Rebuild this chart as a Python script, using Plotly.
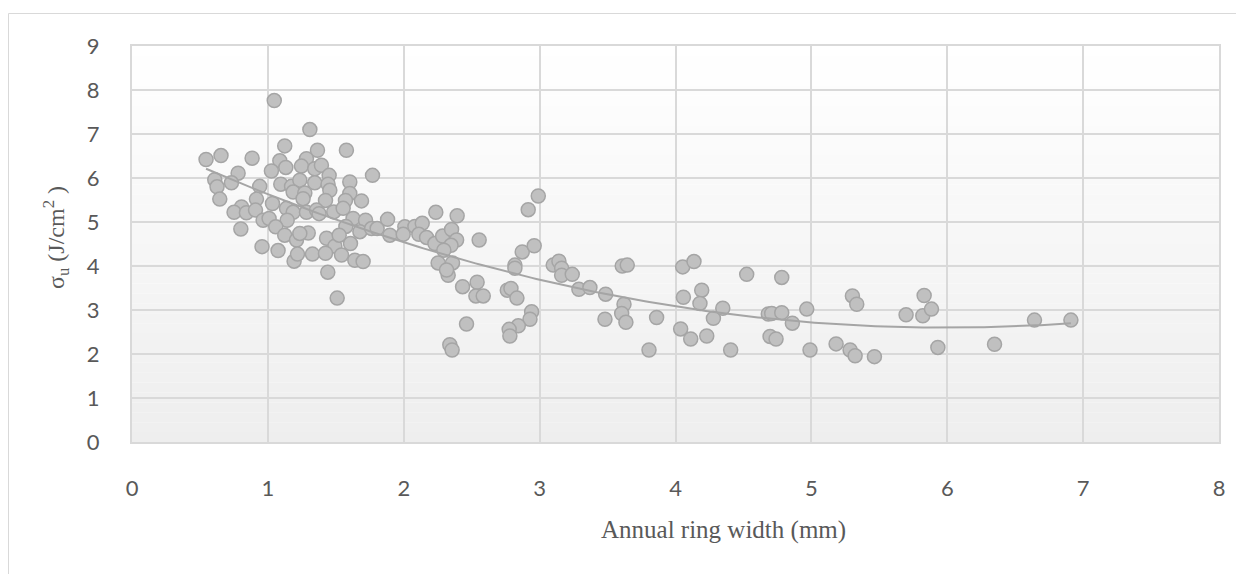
import numpy as np
import plotly.graph_objects as go

# Annual ring width (mm)
ring_width = [
    1.047, 1.309, 0.545, 0.655, 0.884, 1.124, 1.088, 1.132, 1.026, 1.365,
    1.578, 1.284, 1.247, 1.345, 1.394, 1.451, 1.770, 0.781, 0.609, 0.626,
    0.732, 0.646, 0.940, 1.095, 1.174, 1.235, 1.345, 1.443, 1.603, 1.456,
    1.186, 1.272, 1.603, 0.916, 1.259, 1.424, 1.571, 1.689, 1.034, 0.806,
    0.751, 0.842, 0.909, 1.137, 1.186, 1.284, 1.358, 1.377, 1.485, 1.554,
    0.965, 1.009, 1.142, 1.627, 1.719, 1.574, 1.677, 1.763, 1.804, 1.881,
    1.898, 1.058, 0.801, 1.124, 1.211, 1.297, 1.235, 1.432, 1.493, 1.525,
    1.608, 0.957, 1.075, 1.193, 1.218, 1.328, 1.424, 1.542, 1.640, 1.701,
    1.441, 1.510,
    2.008, 1.996, 2.082, 2.136, 2.111, 2.168, 2.236, 2.393, 2.229, 2.286,
    2.352, 2.389, 2.348, 2.295, 2.253, 2.359, 2.327, 2.315, 2.555, 2.433,
    2.540, 2.531, 2.585, 2.462, 2.339, 2.356, 2.916, 2.990, 2.872, 2.960,
    2.818, 2.818, 2.762, 2.789, 2.833, 2.941, 2.929, 2.843, 2.776, 2.781,
    3.100, 3.142, 3.162, 3.162, 3.240, 3.289, 3.370, 3.486, 3.481, 3.608,
    3.645, 3.621, 3.604, 3.635,
    3.805, 3.861, 4.053, 4.136, 4.058, 4.193, 4.180, 4.038, 4.112, 4.230,
    4.279, 4.348, 4.406, 4.524, 4.782, 4.683, 4.708, 4.782, 4.860, 4.696,
    4.740, 4.966, 4.990, 5.182, 5.285, 5.322, 5.302, 5.334, 5.464, 5.697,
    5.830, 5.820, 5.884, 5.931, 6.348, 6.642, 6.910,
]

# Impact bending strength sigma_u (J/cm2)
sigma_u = [
    7.76, 7.10, 6.42, 6.51, 6.45, 6.73, 6.39, 6.24, 6.16, 6.63,
    6.63, 6.44, 6.27, 6.21, 6.29, 6.06, 6.06, 6.11, 5.96, 5.80,
    5.89, 5.52, 5.81, 5.86, 5.81, 5.95, 5.89, 5.86, 5.91, 5.72,
    5.68, 5.66, 5.65, 5.52, 5.53, 5.49, 5.49, 5.48, 5.42, 5.34,
    5.22, 5.21, 5.27, 5.31, 5.22, 5.22, 5.27, 5.19, 5.23, 5.31,
    5.04, 5.08, 5.04, 5.08, 5.04, 4.90, 4.78, 4.85, 4.85, 5.06,
    4.70, 4.89, 4.84, 4.70, 4.59, 4.75, 4.74, 4.63, 4.45, 4.70,
    4.51, 4.44, 4.35, 4.11, 4.27, 4.27, 4.29, 4.25, 4.13, 4.10,
    3.86, 3.27,
    4.89, 4.72, 4.90, 4.97, 4.72, 4.65, 5.22, 5.14, 4.51, 4.68,
    4.83, 4.59, 4.47, 4.36, 4.07, 4.07, 3.79, 3.91, 4.59, 3.53,
    3.63, 3.32, 3.32, 2.68, 2.21, 2.09, 5.28, 5.59, 4.32, 4.46,
    4.02, 3.95, 3.45, 3.49, 3.27, 2.96, 2.79, 2.64, 2.56, 2.41,
    4.02, 4.11, 3.95, 3.79, 3.81, 3.47, 3.51, 3.36, 2.79, 4.00,
    4.02, 3.13, 2.92, 2.72,
    2.09, 2.83, 3.98, 4.10, 3.29, 3.45, 3.15, 2.57, 2.34, 2.41,
    2.81, 3.04, 2.09, 3.81, 3.74, 2.91, 2.92, 2.94, 2.70, 2.40,
    2.34, 3.02, 2.09, 2.23, 2.09, 1.96, 3.32, 3.13, 1.94, 2.89,
    3.33, 2.87, 3.02, 2.15, 2.22, 2.77, 2.77,
]

x_ticks = [0, 1, 2, 3, 4, 5, 6, 7, 8]
y_ticks = [0, 1, 2, 3, 4, 5, 6, 7, 8, 9]

# second-order polynomial trendline fitted to the data
coef = np.polyfit(ring_width, sigma_u, 2)
xt = np.linspace(min(ring_width), max(ring_width), 200)
yt = np.polyval(coef, xt)

fig = go.Figure()
fig.add_trace(go.Scatter(
    x=ring_width, y=sigma_u, mode="markers",
    marker=dict(size=14, color="#c0c0c0", line=dict(color="#a5a5a5", width=1.5)),
    showlegend=False, hoverinfo="skip",
))
fig.add_trace(go.Scatter(
    x=xt, y=yt, mode="lines",
    line=dict(color="#a5a5a5", width=2),
    showlegend=False, hoverinfo="skip",
))

# page body adds an 8px offset; lay out in page pixels and compensate
OFF = 8
W, H = 1244 - OFF, 574 - OFF
L, T = 132 - OFF, 46 - OFF
PW, PH = 1087, 396
R, B = W - L - PW, H - T - PH

def px(xp):
    return (xp - OFF - L) / PW

def py(yp):
    return (T + PH - (yp - OFF)) / PH

# gradient plot background (white at top to light grey at bottom)
shapes = []
n = 40
for i in range(n):
    t = (i + 0.5) / n
    v = int(round(255 - (255 - 238) * (1 - t)))
    shapes.append(dict(
        type="rect", xref="paper", yref="paper",
        x0=0, x1=1, y0=i / n, y1=(i + 1) / n,
        fillcolor=f"rgb({v},{v},{v})", line=dict(width=0), layer="below",
    ))
# chart outer border
shapes.append(dict(
    type="rect", xref="paper", yref="paper",
    x0=px(8.5), x1=px(1243), y0=py(600), y1=py(13.5),
    line=dict(color="#d9d9d9", width=1), fillcolor="rgba(0,0,0,0)", layer="above",
))

fig.update_layout(
    width=W, height=H,
    margin=dict(l=L, r=R, t=T, b=B),
    paper_bgcolor="white", plot_bgcolor="rgba(0,0,0,0)",
    shapes=shapes,
    xaxis=dict(
        range=[0, 8], tickvals=x_ticks, ticktext=[str(v) for v in x_ticks],
        showgrid=True, gridcolor="#d9d9d9", gridwidth=2,
        zeroline=False, showline=True, linecolor="#d9d9d9", linewidth=2, mirror=True,
        ticks="outside", ticklen=26, tickcolor="rgba(0,0,0,0)",
        tickfont=dict(family="Lato", size=22, color="#595959"),
        fixedrange=True,
    ),
    yaxis=dict(
        range=[0, 9], tickvals=y_ticks, ticktext=[str(v) for v in y_ticks],
        showgrid=True, gridcolor="#d9d9d9", gridwidth=2,
        zeroline=False, showline=True, linecolor="#d9d9d9", linewidth=2, mirror=True,
        ticks="outside", ticklen=26, tickcolor="rgba(0,0,0,0)",
        tickfont=dict(family="Lato", size=22, color="#595959"),
        fixedrange=True,
    ),
    annotations=[
        dict(text="Annual ring width (mm)", xref="paper", yref="paper",
             x=px(723), y=py(530), showarrow=False, xanchor="center", yanchor="middle",
             font=dict(family="Liberation Serif", size=25, color="#595959")),
        dict(text="σ<sub>u</sub> (J/cm<sup>2</sup> )", xref="paper", yref="paper",
             x=px(56), y=py(238), showarrow=False, xanchor="center", yanchor="middle",
             textangle=-90,
             font=dict(family="Liberation Serif", size=24, color="#595959")),
    ],
)

fig.write_html("out.html")
